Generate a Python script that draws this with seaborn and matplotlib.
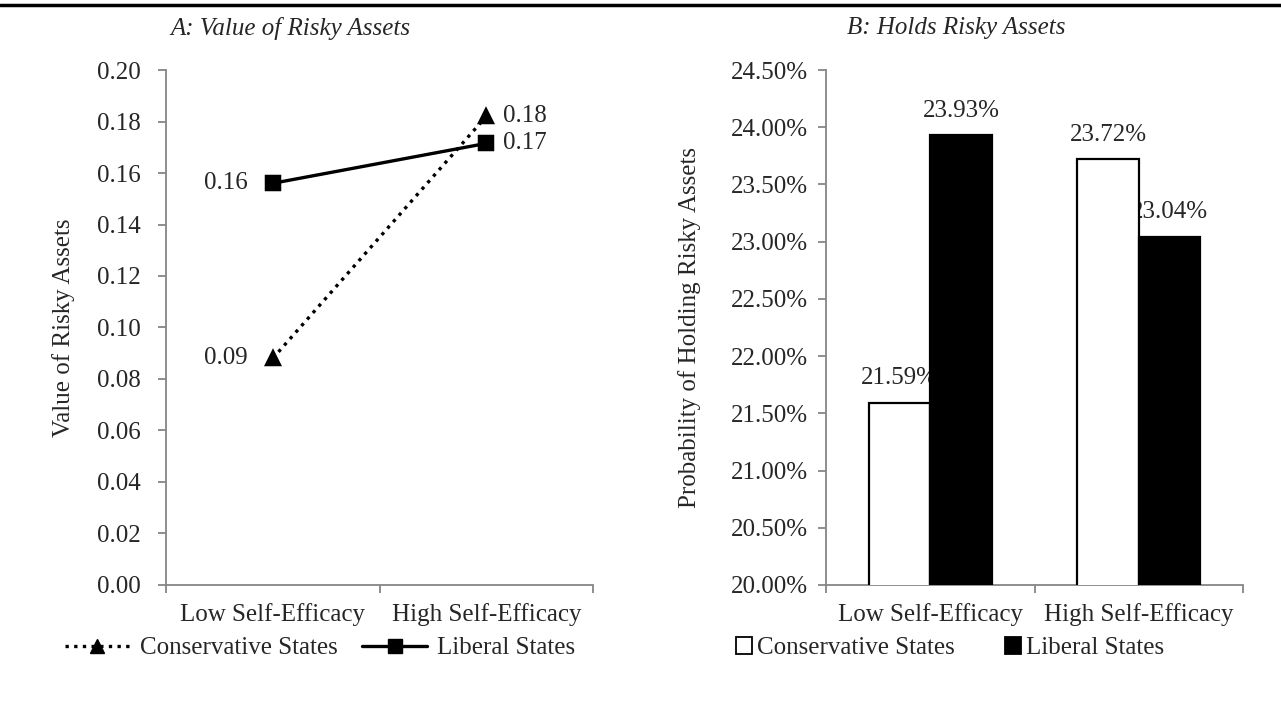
import matplotlib
matplotlib.use("Agg")
import matplotlib.pyplot as plt
from matplotlib.lines import Line2D
from matplotlib.patches import Patch
from matplotlib.ticker import FuncFormatter, FixedLocator
import pandas as pd
import seaborn as sns

# ---------------- data ----------------
efficacy = ["Low Self-Efficacy", "High Self-Efficacy"]
states = ["Conservative States", "Liberal States"]

value_conservative = [0.088, 0.182]
value_liberal = [0.156, 0.1715]

holds_conservative = [21.59, 23.72]
holds_liberal = [23.93, 23.04]

sns.set_theme(style="white")
plt.rcParams["font.family"] = ["Liberation Serif", "DejaVu Serif"]
plt.rcParams["font.size"] = 18

GREY = "#868686"

df_val = pd.DataFrame({
    "efficacy": efficacy * 2,
    "state": [states[0]] * 2 + [states[1]] * 2,
    "value": value_conservative + value_liberal,
})
df_hold = pd.DataFrame({
    "efficacy": efficacy * 2,
    "state": [states[0]] * 2 + [states[1]] * 2,
    "value": holds_conservative + holds_liberal,
})

fig = plt.figure(figsize=(12.81, 7.03), dpi=100)
ax1 = fig.add_axes([166 / 1281, 0.1679, 427 / 1281, 0.7325])
ax2 = fig.add_axes([826 / 1281, 0.1679, 417 / 1281, 0.7325])


def style_axis(ax, ypad):
    for s in ["top", "right"]:
        ax.spines[s].set_visible(False)
    for s in ["left", "bottom"]:
        ax.spines[s].set_color(GREY)
        ax.spines[s].set_linewidth(1.3)
    ax.set_xlim(-0.5, 1.5)
    ax.xaxis.set_minor_locator(FixedLocator([-0.5, 0.5, 1.5]))
    ax.tick_params(axis="x", which="major", length=0, pad=13, labelsize=18)
    ax.tick_params(axis="x", which="minor", length=6, color=GREY, width=1.3,
                   direction="out", bottom=True)
    ax.tick_params(axis="y", length=6, color=GREY, width=1.3, direction="out",
                   left=True, pad=ypad, labelsize=18)
    ax.set_xlabel("")


# ---------------- panel A ----------------
sns.pointplot(data=df_val, x="efficacy", y="value", hue="state",
              order=efficacy, hue_order=states,
              palette=["black", "black"], markers=["^", "s"],
              linestyles=[(0, (1, 1.6)), "-"], errorbar=None, dodge=False,
              markersize=10, linewidth=2.4, legend=False, ax=ax1)
style_axis(ax1, 12)
ax1.set_ylim(0, 0.20)
ax1.set_yticks([i * 0.02 for i in range(11)])
ax1.yaxis.set_major_formatter(FuncFormatter(lambda v, p: f"{v:.2f}"))
ax1.set_ylabel("Value of Risky Assets", fontsize=18)
ax1.yaxis.set_label_coords(-0.213, 0.5)

for i, v in enumerate(value_conservative):
    if i == 0:
        ax1.annotate(f"{v:.2f}", (i, v), xytext=(-18, 0), textcoords="offset points",
                     ha="right", va="center", fontsize=18)
    else:
        ax1.annotate(f"{v:.2f}", (i, v), xytext=(12, 0), textcoords="offset points",
                     ha="left", va="center", fontsize=18)
for i, v in enumerate(value_liberal):
    if i == 0:
        ax1.annotate(f"{v:.2f}", (i, v), xytext=(-18, 0), textcoords="offset points",
                     ha="right", va="center", fontsize=18)
    else:
        ax1.annotate(f"{v:.2f}", (i, v), xytext=(12, 0), textcoords="offset points",
                     ha="left", va="center", fontsize=18)

# ---------------- panel B ----------------
sns.barplot(data=df_hold, x="efficacy", y="value", hue="state",
            order=efficacy, hue_order=states,
            palette=["white", "black"], edgecolor="black", linewidth=1.6,
            width=0.59, gap=0, errorbar=None, legend=False, ax=ax2, zorder=3)
style_axis(ax2, 7)
ax2.set_ylim(20, 24.5)
ax2.set_yticks([20 + 0.5 * i for i in range(10)])
ax2.yaxis.set_major_formatter(FuncFormatter(lambda v, p: f"{v:.2f}%"))
ax2.set_ylabel("Probability of Holding Risky Assets", fontsize=18)
ax2.yaxis.set_label_coords(-0.30, 0.5)

for cont in ax2.containers:
    for bar in cont:
        h = bar.get_height()
        ax2.text(bar.get_x() + bar.get_width() / 2, h + 0.12, f"{h:.2f}%",
                 ha="center", va="bottom", fontsize=18, zorder=1)

# ---------------- titles ----------------
fig.text(290 / 1281, 1 - 28 / 703, "A: Value of Risky Assets", ha="center",
         va="center", fontsize=18, style="italic")
fig.text(956 / 1281, 1 - 28 / 703, "B: Holds Risky Assets", ha="center",
         va="center", fontsize=18, style="italic")

# top rule
fig.add_artist(Line2D([0, 1], [1 - 5 / 703, 1 - 5 / 703], color="black", lw=2.5,
                      transform=fig.transFigure))

# ---------------- legends ----------------
h_left = [
    Line2D([], [], color="black", ls=(0, (1, 1.6)), lw=2.4, marker="^", markersize=10),
    Line2D([], [], color="black", ls="-", lw=2.4, marker="s", markersize=10),
]
fig.legend(h_left, states, loc="center", bbox_to_anchor=(320 / 1281, 1 - 648 / 703),
           ncol=2, frameon=False, fontsize=18, handlelength=2.6, handletextpad=0.4,
           columnspacing=1.0)

h_right = [
    Patch(facecolor="white", edgecolor="black", linewidth=1.3),
    Patch(facecolor="black", edgecolor="black", linewidth=1.3),
]
fig.legend(h_right, states, loc="center", bbox_to_anchor=(950 / 1281, 1 - 648 / 703),
           ncol=2, frameon=False, fontsize=18, handlelength=0.65, handleheight=0.65,
           handletextpad=0.2, columnspacing=2.0)

fig.savefig("out.png", dpi=100)
